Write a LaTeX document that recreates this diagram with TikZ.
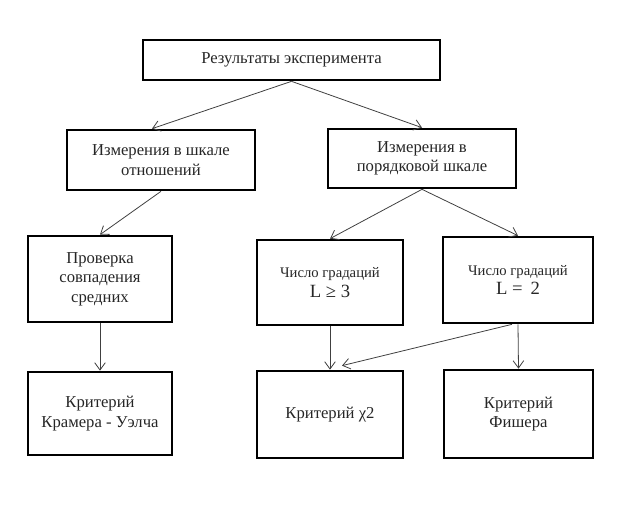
\documentclass[tikz,border=0pt]{standalone}
\usepackage{fontspec}
\setmainfont{Liberation Serif}
\usetikzlibrary{arrows.meta}

\begin{document}
\begin{tikzpicture}[x=0.75pt, y=-0.75pt, >={Straight Barb[length=5.5pt,width=8pt]},
        box/.style={draw, rectangle, line width=2pt, align=center, text=black!85, font=\fontsize{12.5}{14.5}\selectfont},
        link/.style={->, draw=black!75, line width=0.6pt}]
        \useasboundingbox (0,0) rectangle (622,509);
        % Nodes
        \node[box, minimum width=222.75pt, minimum height=30pt] (results) at (291.5,60) {Результаты эксперимента};
        \node[box, minimum width=141pt, minimum height=45pt] (ratio) at (161,160) {Измерения в шкале\\отношений};
        \node[box, minimum width=141pt, minimum height=44.25pt] (order) at (422,158.5) {Измерения в\\порядковой шкале};
        \node[box, minimum width=108pt, minimum height=64.5pt] (check) at (100,279) {Проверка\\совпадения\\средних};
        \node[box, minimum width=109.5pt, minimum height=63.75pt] (grad3) at (330,282.5) {{\fontsize{11}{13}\selectfont Число градаций}\\{\fontsize{14}{16}\selectfont L ≥ 3}};
        \node[box, minimum width=112.5pt, minimum height=64.5pt] (grad2) at (518,280) {{\fontsize{11}{13}\selectfont Число градаций}\\{\fontsize{14}{16}\selectfont L =\, 2}};
        \node[box, minimum width=108pt, minimum height=62.25pt] (kramer) at (100,413.5) {Критерий\\Крамера - Уэлча};
        \node[box, minimum width=109.5pt, minimum height=65.25pt] (chi) at (330,414.5) {Критерий χ2};
        \node[box, minimum width=111.75pt, minimum height=66pt] (fisher) at (518.5,414) {Критерий\\Фишера};

        % Arrows
        \draw[link] (results.south) -- ([xshift=-6.75pt]ratio.north);
        \draw[link] (results.south) -- (order.north);
        \draw[link] (ratio.south) -- (check.north);
        \draw[link] (order.south) -- (grad3.north);
        \draw[link] (order.south) -- (grad2.north);
        \draw[link] (check.south) -- (kramer.north);
        \draw[link] (grad3.south) -- (chi.north);
        \draw[link] (grad2.south) -- (fisher.north);
        \draw[link] ([xshift=-4.5pt]grad2.south) -- ([xshift=9pt, yshift=3pt]chi.north);
    \end{tikzpicture}
\end{document}
